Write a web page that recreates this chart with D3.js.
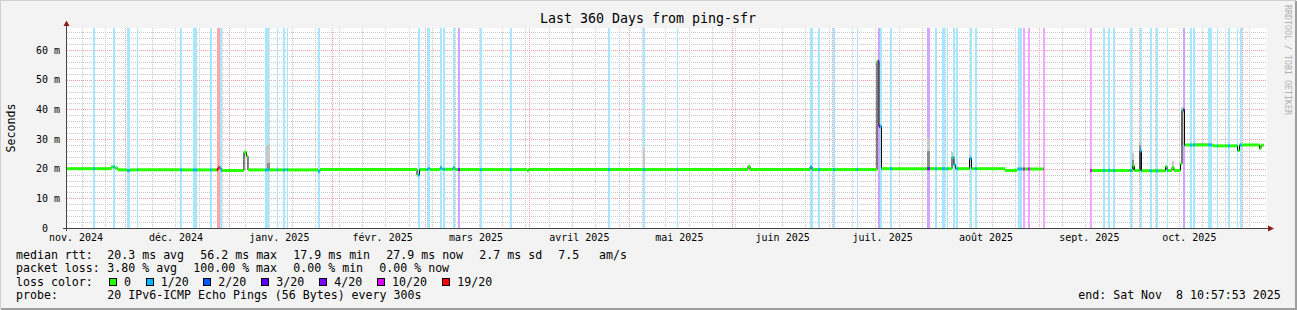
<!DOCTYPE html>
<html>
<head>
<meta charset="utf-8">
<script src="https://cdn.jsdelivr.net/npm/d3@7"></script>
<style>
body{margin:0;background:#f3f3f3;}
svg{display:block;}
svg text{font-family:"DejaVu Sans Mono",monospace;white-space:pre;fill:#000;}
</style>
</head>
<body>
<svg width="1297" height="310"></svg>
<script>
"use strict";

var startTime = "2024-11-13 10:57:53";
var endTime = "2025-11-08 10:57:53";

var monthLabels = ["nov. 2024","déc. 2024","janv. 2025","févr. 2025","mars 2025","avril 2025",
	"mai 2025","juin 2025","juil. 2025","août 2025","sept. 2025","oct. 2025"];

var yTicks = [0,10,20,30,40,50,60];

// median rtt in ms, each value holds until the next date (null = no data)
var medianSteps = [
	["2024-11-13 11",20.0],["2024-11-26 16",20.6],["2024-11-27 21",20.2],["2024-11-28 18",19.6],
	["2024-12-01 11",19.4],["2024-12-02 09",19.6],["2024-12-28 18",20.3],["2024-12-29 16",19.4],
	["2025-01-05 13",25.5],["2025-01-06 07",24.2],["2025-01-06 18",19.6],["2025-01-27 18",19.1],
	["2025-01-28 09",19.7],["2025-02-26 11",17.9],["2025-02-27 05",19.7],["2025-03-01 18",20.0],
	["2025-03-02 09",19.7],["2025-03-05 09",20.3],["2025-03-05 23",19.8],["2025-03-09 06",20.3],
	["2025-03-09 21",19.7],["2025-03-31 11",19.3],["2025-03-31 22",19.7],["2025-06-05 18",20.8],
	["2025-06-06 09",19.7],["2025-06-24 09",20.6],["2025-06-24 23",19.7],["2025-07-14 11",56.2],
	["2025-07-15 01",34.3],["2025-07-15 19",20.0],["2025-08-05 23",23.8],["2025-08-06 13",21.3],
	["2025-08-07 00",20.0],["2025-08-11 05",23.5],["2025-08-11 19",20.0],["2025-08-21 21",19.4],
	["2025-08-25 11",19.9],["2025-09-02 10",null],["2025-09-16 09",19.4],["2025-09-29 06",21.0],
	["2025-09-29 17",19.4],["2025-10-01 09",26.0],["2025-10-01 19",19.3],["2025-10-09 00",20.7],
	["2025-10-09 11",19.4],["2025-10-10 23",20.4],["2025-10-11 13",19.4],["2025-10-13 12",21.6],
	["2025-10-13 23",39.8],["2025-10-14 17",28.0],["2025-10-23 06",27.7],["2025-10-30 15",26.1],
	["2025-10-31 05",28.0],["2025-11-06 05",26.8],["2025-11-06 16",27.9],["2025-11-07 13",27.9]
];

// packet loss periods: from, to, lost pings out of 20
var lossBands = [
	["2024-11-21 06","2024-11-21 21",1],["2024-11-27 06","2024-11-27 21",1],["2024-12-01 13","2024-12-02 09",1],
	["2024-12-04 09","2024-12-04 16",1],["2024-12-17 09","2024-12-17 23",1],["2024-12-21 06","2024-12-22 11",1],
	["2024-12-26 09","2024-12-26 23",1],["2024-12-28 09","2024-12-29 06",19],["2024-12-29 06","2024-12-30 01",1],
	["2025-01-11 23","2025-01-13 04",1],["2025-01-15 09","2025-01-15 18",1],["2025-01-17 06","2025-01-17 21",1],
	["2025-01-18 09","2025-01-18 18",1],["2025-01-27 18","2025-01-28 09",1],["2025-02-26 18","2025-02-27 09",1],
	["2025-03-01 09","2025-03-02 09",1],["2025-03-05 09","2025-03-05 23",1],["2025-03-06 04","2025-03-06 21",1],
	["2025-03-09 04","2025-03-09 18",1],["2025-03-10 18","2025-03-11 09",4],["2025-03-17 09","2025-03-17 23",1],
	["2025-03-26 09","2025-03-26 23",1],["2025-04-24 18","2025-04-25 09",1],["2025-05-05 06","2025-05-05 21",1],
	["2025-05-15 09","2025-05-15 16",1],["2025-06-24 09","2025-06-25 06",1],["2025-06-26 18","2025-06-27 09",1],
	["2025-07-01 06","2025-07-01 21",1],["2025-07-08 09","2025-07-08 18",1],["2025-07-14 18","2025-07-15 09",3],
	["2025-07-15 09","2025-07-15 23",1],["2025-07-18 09","2025-07-18 23",1],["2025-07-29 13","2025-07-30 09",4],
	["2025-07-31 21","2025-08-01 11",1],["2025-08-02 23","2025-08-03 21",1],["2025-08-04 09","2025-08-04 18",1],
	["2025-08-06 06","2025-08-06 21",1],["2025-08-07 06","2025-08-07 18",1],["2025-08-11 06","2025-08-11 21",1],
	["2025-08-12 18","2025-08-13 09",1],["2025-08-25 18","2025-08-26 23",1],["2025-08-27 06","2025-08-27 21",10],
	["2025-08-28 18","2025-08-29 09",10],["2025-09-02 06","2025-09-02 21",10],["2025-09-16 09","2025-09-16 23",10],
	["2025-09-20 06","2025-09-20 21",1],["2025-09-21 18","2025-09-22 09",1],["2025-09-23 06","2025-09-23 21",1],
	["2025-09-28 06","2025-09-28 21",1],["2025-10-01 06","2025-10-01 21",1],["2025-10-04 06","2025-10-04 21",1],
	["2025-10-06 04","2025-10-06 18",1],["2025-10-09 11","2025-10-09 18",1],["2025-10-14 06","2025-10-14 21",3],
	["2025-10-16 09","2025-10-16 23",1],["2025-10-17 06","2025-10-17 21",1],["2025-10-21 18","2025-10-22 23",1],
	["2025-10-24 11","2025-10-24 18",1],["2025-10-27 18","2025-10-28 09",1],["2025-10-30 11","2025-10-30 18",1],
	["2025-10-31 09","2025-10-31 23",1]
];

// smoke: from, to, low ms, high ms, shade (0 light, 1 dark)
var smokeAreas = [
	["2024-12-11 00","2024-12-11 12",19.6,20.4,0],["2025-01-05 11","2025-01-05 18",24.0,26.0,0],
	["2025-01-12 04","2025-01-13 09",19.7,28.0,0],["2025-01-12 13","2025-01-13 09",19.7,22.0,1],
	["2025-03-05 06","2025-03-05 20",20.0,21.2,0],["2025-03-09 04","2025-03-09 16",20.0,21.0,0],
	["2025-05-05 06","2025-05-05 17",19.7,26.5,0],["2025-07-14 22","2025-07-15 07",34.3,55.0,0],
	["2025-07-29 11","2025-07-30 05",20.0,30.3,0],["2025-07-29 11","2025-07-30 05",20.0,26.0,1],
	["2025-08-05 19","2025-08-06 06",23.8,25.7,0],["2025-08-11 01","2025-08-11 12",23.5,24.5,0],
	["2025-09-29 02","2025-09-29 13",19.4,25.2,0],["2025-09-29 02","2025-09-29 13",19.4,23.0,1],
	["2025-10-01 01","2025-10-01 16",19.3,30.2,0],["2025-10-01 01","2025-10-01 16",19.3,28.0,1],
	["2025-10-10 23","2025-10-11 10",20.0,22.7,0],["2025-10-13 19","2025-10-14 10",28.0,40.7,0],
	["2025-10-17 21","2025-10-22 23",27.5,28.8,0]
];

var lossLevels = [0,1,2,3,4,10,19];
var lossLabels = ["0","1/20","2/20","3/20","4/20","10/20","19/20"];
var lossColors = ["#26ff00","#00b8ff","#0059ff","#5e00ff","#7e00ff","#dd00ff","#ff0000"];

var rttLegend = [["median rtt:",16],["20.3 ms avg",107.3],["56.2 ms max",200.3],["17.9 ms min",293.3],
	["27.9 ms now",386.3],["2.7 ms sd",479.3],["7.5",558.3],["am/s",599]];
var lossLegend = [["packet loss:",16],["3.80 % avg",107.3],["100.00 % max",193.3],["0.00 % min",293.3],["0.00 % now",379.3]];
var probeText = "20 IPv6-ICMP Echo Pings (56 Bytes) every 300s";
var endText = "end: Sat Nov  8 10:57:53 2025";

function smokeping(){

	var svg = d3.select("svg");
	var parseHour = d3.utcParse("%Y-%m-%d %H");
	var parseFull = d3.utcParse("%Y-%m-%d %H:%M:%S");
	var t0 = parseFull(startTime), t1 = parseFull(endTime);

	var xScale = d3.scaleUtc().domain([t0, t1]).range([67, 1267]);
	var yScale = d3.scaleLinear().domain([0, 67.44]).range([228, 28]);

	function colorOf(loss){ return lossColors[lossLevels.indexOf(loss)]; }

	// frame with rrdtool style shading
	svg.append("rect").attr("width",1297).attr("height",310).attr("fill","#f3f3f3");
	svg.append("path").attr("d","M0,309V0H1296").attr("fill","none").attr("stroke","#cfcfcf").attr("stroke-width",2);
	svg.append("path").attr("d","M1,309H1296V1").attr("fill","none").attr("stroke","#9e9e9e").attr("stroke-width",2);

	svg.append("rect").attr("x",67).attr("y",28).attr("width",1200).attr("height",200).attr("fill","#ffffff");

	// grid
	var weeks = d3.utcMonday.range(t0, t1);
	var months = d3.utcMonth.range(t0, t1);
	var minorY = d3.range(2, 67.44, 2).filter(function(d){ return d % 10 !== 0; });

	var grid = svg.append("g").attr("shape-rendering","crispEdges");
	grid.selectAll("line.vminor").data(weeks).enter().append("line")
		.attr("x1",function(d){return Math.round(xScale(d))+0.5;}).attr("x2",function(d){return Math.round(xScale(d))+0.5;})
		.attr("y1",28).attr("y2",228).attr("stroke","#c8c8c8").attr("stroke-dasharray","1,1");
	grid.selectAll("line.hminor").data(minorY).enter().append("line")
		.attr("x1",67).attr("x2",1267)
		.attr("y1",function(d){return Math.round(yScale(d))+0.5;}).attr("y2",function(d){return Math.round(yScale(d))+0.5;})
		.attr("stroke","#c8c8c8").attr("stroke-dasharray","1,1");
	grid.selectAll("line.vmajor").data(months).enter().append("line")
		.attr("x1",function(d){return Math.round(xScale(d))+0.5;}).attr("x2",function(d){return Math.round(xScale(d))+0.5;})
		.attr("y1",28).attr("y2",228).attr("stroke","#f0a0a0").attr("stroke-dasharray","1,1");
	grid.selectAll("line.hmajor").data(yTicks.slice(1)).enter().append("line")
		.attr("x1",67).attr("x2",1267)
		.attr("y1",function(d){return Math.round(yScale(d))+0.5;}).attr("y2",function(d){return Math.round(yScale(d))+0.5;})
		.attr("stroke","#f0a0a0").attr("stroke-dasharray","1,1");

	// loss bands
	var bands = lossBands.map(function(d){ return {t0:parseHour(d[0]), t1:parseHour(d[1]), loss:d[2]}; });
	svg.append("g").attr("shape-rendering","crispEdges")
		.selectAll("rect").data(bands).enter().append("rect")
		.attr("x",function(d){return xScale(d.t0);})
		.attr("width",function(d){return Math.max(1, xScale(d.t1)-xScale(d.t0));})
		.attr("y",28).attr("height",200)
		.attr("fill",function(d){return d3.interpolateRgb("#ffffff", colorOf(d.loss))(0.35);});

	// smoke
	svg.append("g").attr("shape-rendering","crispEdges")
		.selectAll("rect").data(smokeAreas).enter().append("rect")
		.attr("x",function(d){return xScale(parseHour(d[0]));})
		.attr("width",function(d){return Math.max(1, xScale(parseHour(d[1]))-xScale(parseHour(d[0])));})
		.attr("y",function(d){return yScale(d[3]);})
		.attr("height",function(d){return yScale(d[2])-yScale(d[3]);})
		.attr("fill",function(d){return d[4] ? "#8c8c8c" : "#c8c8c8";});

	// median: thin black step line
	var steps = medianSteps.map(function(d){ return {t:parseHour(d[0]), v:d[1]}; });
	var pts = [];
	steps.forEach(function(s, i){
		if (i === steps.length-1) return;
		if (s.v === null) { pts.push([s.t, null]); return; }
		pts.push([s.t, s.v]); pts.push([steps[i+1].t, s.v]);
	});
	var stepLine = d3.line()
		.defined(function(d){return d[1] !== null;})
		.x(function(d){return xScale(d[0]);})
		.y(function(d){return yScale(d[1]);});
	svg.append("path").attr("d", stepLine(pts))
		.attr("fill","none").attr("stroke","#000").attr("stroke-width",1);

	// median: thick segments coloured by loss
	function lossAt(t){
		var b = bands.find(function(b){ return t >= b.t0 && t < b.t1; });
		return b ? b.loss : 0;
	}
	var segs = [];
	steps.forEach(function(s, i){
		if (i === steps.length-1 || s.v === null) return;
		var a = s.t, b = steps[i+1].t, cuts = [a, b];
		bands.forEach(function(bd){
			[bd.t0, bd.t1].forEach(function(c){ if (c > a && c < b) cuts.push(c); });
		});
		cuts.sort(function(p,q){return p-q;});
		for (var j = 0; j < cuts.length-1; j++) {
			var mid = new Date((+cuts[j] + +cuts[j+1]) / 2);
			segs.push({t0:cuts[j], t1:cuts[j+1], v:s.v, loss:lossAt(mid)});
		}
	});
	svg.append("g").selectAll("line").data(segs).enter().append("line")
		.attr("x1",function(d){return xScale(d.t0);}).attr("x2",function(d){return xScale(d.t1);})
		.attr("y1",function(d){return yScale(d.v);}).attr("y2",function(d){return yScale(d.v);})
		.attr("stroke",function(d){return colorOf(d.loss);}).attr("stroke-width",3);

	// axes lines and arrows
	svg.append("line").attr("x1",63).attr("x2",1269).attr("y1",228.5).attr("y2",228.5).attr("stroke","#444");
	svg.append("line").attr("x1",66.5).attr("x2",66.5).attr("y1",25).attr("y2",231).attr("stroke","#444");
	svg.append("path").attr("d","M63.5,26L66.5,20.5L69.5,26Z").attr("fill","#8b1a1a");
	svg.append("path").attr("d","M1268,225.5L1274,228.5L1268,231.5Z").attr("fill","#8b1a1a");

	// y labels
	var yAxis = svg.append("g").attr("transform","translate(67,0)")
		.call(d3.axisLeft(yScale).tickValues(yTicks).tickSize(0).tickPadding(7)
			.tickFormat(function(d){ return d === 0 ? "0  " : d + " m"; }));
	yAxis.select(".domain").remove();
	yAxis.selectAll("text").attr("font-size",10).attr("font-family","DejaVu Sans Mono")
		.attr("xml:space","preserve");

	// month labels, centred half a month after the month start
	var labelDates = d3.utcMonth.range(d3.utcMonth.floor(t0), t1)
		.map(function(d){ return d3.utcDay.offset(d, 15); })
		.filter(function(d){ return d <= t1; });
	var xAxis = svg.append("g").attr("transform","translate(0,228)")
		.call(d3.axisBottom(xScale).tickValues(labelDates).tickSize(0).tickPadding(6)
			.tickFormat(function(d,i){ return monthLabels[i]; }));
	xAxis.select(".domain").remove();
	xAxis.selectAll("text").attr("font-size",10).attr("font-family","DejaVu Sans Mono");

	// titles
	svg.append("text").attr("x",648).attr("y",23).attr("text-anchor","middle")
		.attr("font-size",13.3).text("Last 360 Days from ping-sfr");
	svg.append("text").attr("transform","translate(15,128) rotate(-90)").attr("text-anchor","middle")
		.attr("font-size",11.6).text("Seconds");
	svg.append("text").attr("transform","translate(1285,5) rotate(90)")
		.attr("font-size",8.3).style("fill","#b0b0b0").text("RRDTOOL / TOBI OETIKER");

	// legend
	var legend = svg.append("g").attr("font-size",11.6);
	legend.selectAll("text.rtt").data(rttLegend).enter().append("text")
		.attr("x",function(d){return d[1];}).attr("y",258.5).text(function(d){return d[0];});
	legend.selectAll("text.loss").data(lossLegend).enter().append("text")
		.attr("x",function(d){return d[1];}).attr("y",272).text(function(d){return d[0];});
	legend.append("text").attr("x",16).attr("y",285.7).text("loss color:");

	var swatchX = [109,145.7,203.3,261.3,319.3,377,442.3];
	var sw = legend.selectAll("g.sw").data(lossLevels).enter().append("g");
	sw.append("rect")
		.attr("x",function(d,i){return Math.round(swatchX[i])+0.5;}).attr("y",278.5)
		.attr("width",7).attr("height",7)
		.attr("fill",function(d){return colorOf(d);}).attr("stroke","#000");
	sw.append("text")
		.attr("x",function(d,i){return swatchX[i]+15;}).attr("y",285.7)
		.text(function(d,i){return lossLabels[i];});

	legend.append("text").attr("x",16).attr("y",299.3).text("probe:");
	legend.append("text").attr("x",107.3).attr("y",299.3).text(probeText);
	legend.append("text").attr("x",1280.7).attr("y",299.3).attr("text-anchor","end")
		.attr("xml:space","preserve").text(endText);
}

smokeping();
</script>
</body>
</html>
